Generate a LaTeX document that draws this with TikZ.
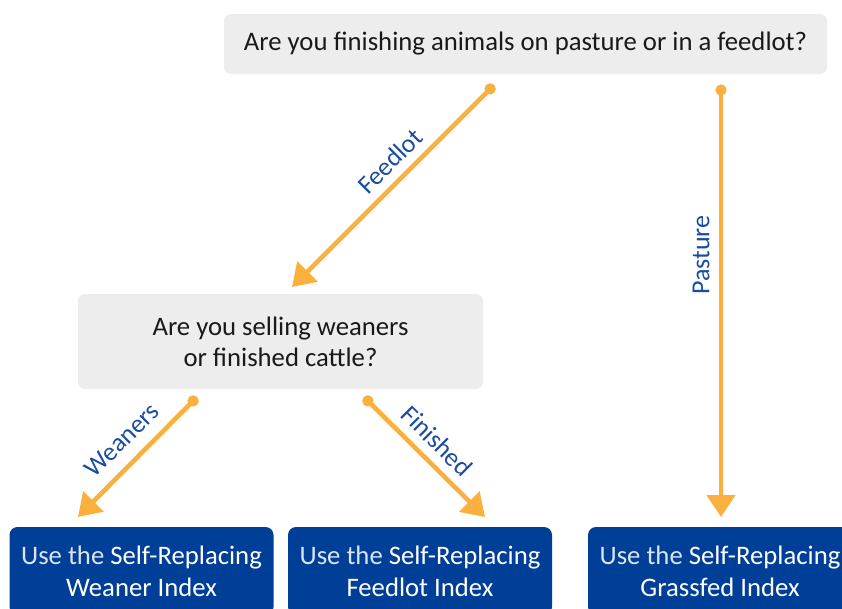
\documentclass[tikz,border=0pt]{standalone}
\usepackage{fontspec}
\setmainfont{Carlito}
\usetikzlibrary{arrows.meta}
\definecolor{boxgray}{HTML}{EDEDED}
\definecolor{navy}{HTML}{003F98}
\definecolor{arrowor}{HTML}{FAB03E}
\definecolor{labelblue}{HTML}{1B4C9E}
\definecolor{softwhite}{HTML}{DCE4F2}
\tikzset{
  question/.style={fill=boxgray, rounded corners=7pt, inner sep=0pt, align=center,
    text=black!90, font=\fontsize{26.7}{31}\selectfont},
  result/.style={fill=navy, rounded corners=8pt, inner sep=0pt, align=center,
    text=white, font=\fontsize{26.7}{32}\selectfont, minimum width=264pt, minimum height=88pt},
  flow/.style={draw=arrowor, line width=4.6pt, {Circle[length=11pt]}-{Triangle[length=22pt,width=28pt]}},
  lbl/.style={text=labelblue, font=\fontsize{26}{28}\selectfont, inner sep=0pt}
}
\newcommand{\lt}[1]{{\color{softwhite}#1}}
\begin{document}
\begin{tikzpicture}[x=1pt,y=-1pt]
\useasboundingbox (0,0) rectangle (842,608);
\clip (0,0) rectangle (842,608);
\node[question, minimum width=603pt, minimum height=60pt] (top) at (525.5,44) {Are you finishing animals on pasture or in a feedlot?};
\node[question, minimum width=405pt, minimum height=95pt] (mid) at (280.5,341.5) {Are you selling weaners\\or finished cattle?};
\node[result] (wean) at (141.5,571) {\lt{Use the} Self-Replacing\\Weaner Index};
\node[result] (feed) at (420,571) {\lt{Use the} Self-Replacing\\Feedlot Index};
\node[result] (grass) at (720,571) {\lt{Use the} Self-Replacing\\Grassfed Index};
\coordinate (fs) at (494,85);
\coordinate (fe) at (292,287);
\coordinate (ps) at (721,84.5);
\coordinate (pe) at (721,517);
\coordinate (ws) at (197,397);
\coordinate (we) at (78,517);
\coordinate (ns) at (364,397);
\coordinate (ne) at (485,517);
\draw[flow] (fs) -- (fe);
\draw[flow] (ps) -- (pe);
\draw[flow] (ws) -- (we);
\draw[flow] (ns) -- (ne);
\node[lbl, rotate=45] (lf) at (390,161) {Feedlot};
\node[lbl, rotate=90] (lp) at (701,255) {Pasture};
\node[lbl, rotate=45] (lw) at (122,440) {Weaners};
\node[lbl, rotate=-45] (ln) at (437,441) {Finished};
\end{tikzpicture}
\end{document}
